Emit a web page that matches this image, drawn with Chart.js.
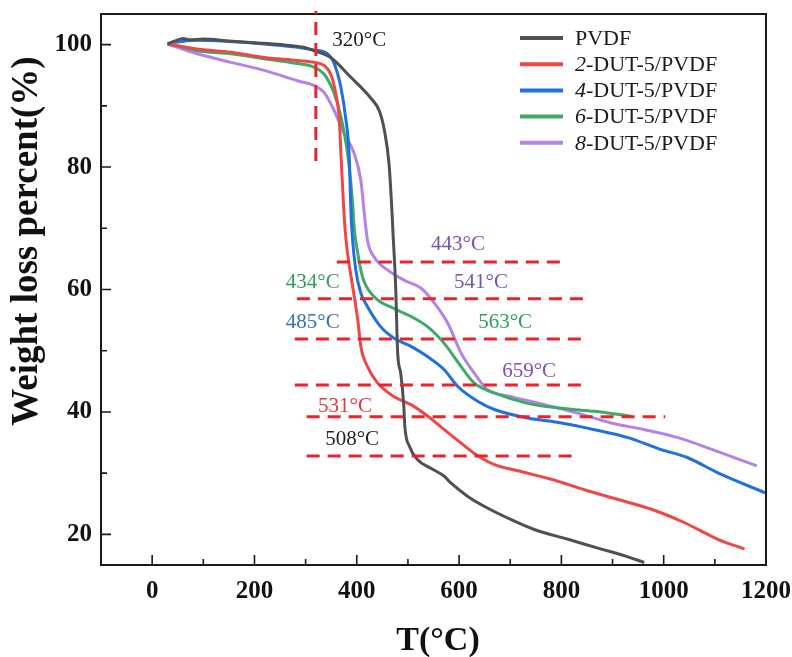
<!DOCTYPE html>
<html>
<head>
<meta charset="utf-8">
<script src="https://cdn.jsdelivr.net/npm/chart.js@4.4.1/dist/chart.umd.min.js"></script>
<style>
  html, body { margin: 0; padding: 0; background: #ffffff; }
  #wrap { width: 792px; height: 657px; }
</style>
</head>
<body>
<div id="wrap"><canvas id="tga" width="792" height="657"></canvas></div>
<script>
// ---- TGA curves: temperature (°C) and remaining weight (%) ----
const seriesNames = ['PVDF', '2-DUT-5/PVDF', '4-DUT-5/PVDF', '6-DUT-5/PVDF', '8-DUT-5/PVDF'];

const pvdfT = [30, 45, 60, 75, 100, 150, 200, 250, 300, 317, 349, 388, 428, 444, 454, 463, 468, 471, 476, 480, 486, 492, 494, 503, 519, 545, 571, 584, 617, 649, 702, 747, 813, 878, 924, 962];
const pvdfW = [100.1, 100.6, 101.0, 100.8, 100.9, 100.6, 100.3, 100.0, 99.5, 99.0, 97.9, 94.7, 91.2, 89.2, 86.0, 80.6, 74.0, 69.0, 60.5, 49.6, 46.3, 40.9, 37.6, 34.4, 32.2, 30.8, 29.5, 28.4, 26.2, 24.6, 22.4, 20.8, 19.2, 17.6, 16.5, 15.4];

const dut2T = [30, 88, 154, 219, 284, 317, 336, 349, 359, 366, 369, 374, 377, 382, 392, 402, 408, 421, 441, 473, 506, 539, 571, 604, 637, 669, 715, 780, 845, 911, 976, 1041, 1106, 1158];
const dut2W = [100.1, 99.3, 98.75, 97.9, 97.4, 97.1, 96.6, 95.2, 92.0, 87.6, 82.2, 74.0, 70.0, 65.9, 60.5, 55.0, 50.7, 47.4, 44.7, 42.5, 41.2, 39.3, 37.1, 34.9, 32.8, 31.4, 30.4, 29.0, 27.3, 25.7, 24.1, 21.9, 19.2, 17.6];

const dut4T = [43, 88, 150, 219, 280, 317, 343, 356, 369, 379, 385, 388.5, 391, 398, 408, 421, 447, 473, 506, 539, 571, 597, 637, 669, 734, 800, 865, 930, 995, 1045, 1106, 1198];
const dut4W = [100.4, 100.7, 100.5, 100.1, 99.6, 99.1, 98.5, 96.9, 93.0, 87.6, 82.2, 73.0, 69.0, 63.2, 59.4, 57.2, 53.9, 52.05, 50.7, 49.0, 46.9, 44.2, 41.7, 40.4, 39.0, 38.2, 37.1, 35.8, 33.85, 32.6, 30.05, 26.8];

const dut6T = [36, 88, 154, 219, 284, 317, 336, 356, 369, 382, 392, 395, 402, 411, 434, 473, 506, 539, 571, 604, 630, 669, 734, 800, 865, 937];
const dut6W = [100.1, 99.0, 98.5, 97.7, 96.9, 96.3, 95.2, 92.0, 88.2, 82.2, 74.0, 70.0, 65.9, 62.1, 58.8, 56.9, 55.6, 53.9, 51.2, 47.4, 44.7, 43.1, 41.4, 40.6, 40.1, 39.3];

const dut8T = [30, 88, 154, 219, 284, 317, 336, 356, 375, 395, 408, 414, 421, 434, 460, 493, 526, 552, 578, 604, 630, 656, 702, 767, 832, 897, 963, 1028, 1110, 1182];
const dut8W = [100.1, 98.5, 97.1, 95.8, 94.1, 93.3, 92.2, 89.2, 85.5, 82.2, 77.8, 73.0, 68.0, 65.3, 63.2, 61.5, 60.2, 57.75, 54.5, 49.6, 46.3, 43.6, 42.5, 41.2, 39.8, 38.2, 37.1, 35.8, 33.4, 31.2];

// ---- axes ----
const xTickValues = [0, 200, 400, 600, 800, 1000, 1200];
const xMinorValues = [100, 300, 500, 700, 900, 1100];
const yTickValues = [20, 40, 60, 80, 100];
const yMinorValues = [30, 50, 70, 90];

// ---- decomposition markers ----
const onsetT = 320;            // vertical guide
const onsetSpan = [81, 105.5];
const guideW = [64.5, 58.5, 51.9, 44.4, 39.2, 32.8];   // horizontal guides (weight %)
const guideFrom = [361, 283, 279, 279, 302, 302];
const guideTo = [809, 856, 852, 852, 1003, 820];

const markTexts = ['320°C', '443°C', '434°C', '541°C', '485°C', '563°C', '659°C', '531°C', '508°C'];
const markT = [405, 598, 314, 643, 314, 690, 737, 377, 391];
const markW = [100.7, 67.3, 61.1, 61.1, 54.6, 54.6, 46.6, 40.9, 35.5];

const SERIF = '"Liberation Serif", "Times New Roman", "DejaVu Serif", serif';
const lineColors = ['#505050', '#f04646', '#2070e4', '#3eaa68', '#b482ea'];
const markColors = ['#222222', '#7b52b3', '#2f9f58', '#7b52b3', '#2f72bd', '#2f9f58', '#7b52b3', '#e03a3a', '#222222'];

function pairs(xs, ys) { return xs.map((x, i) => ({ x: x, y: ys[i] })); }
const seriesT = [pvdfT, dut2T, dut4T, dut6T, dut8T];
const seriesW = [pvdfW, dut2W, dut4W, dut6W, dut8W];

const datasets = seriesNames.map((name, i) => ({
  label: name,
  data: pairs(seriesT[i], seriesW[i]),
  borderColor: lineColors[i],
  backgroundColor: lineColors[i],
  borderWidth: 3,
  pointRadius: 0,
  cubicInterpolationMode: 'monotone',
  fill: false
}));

// frame box with inward tick marks
const framePlugin = {
  id: 'frame',
  afterDatasetsDraw(chart) {
    const { ctx, chartArea: a, scales: { x, y } } = chart;
    ctx.save();
    ctx.strokeStyle = '#1a1a1a';
    ctx.lineWidth = 2;
    ctx.strokeRect(a.left, a.top, a.right - a.left, a.bottom - a.top);
    ctx.lineWidth = 1.6;
    ctx.beginPath();
    xTickValues.forEach(v => { const p = x.getPixelForValue(v); if (p < a.right - 2) { ctx.moveTo(p, a.bottom); ctx.lineTo(p, a.bottom - 10); } });
    xMinorValues.forEach(v => { const p = x.getPixelForValue(v); ctx.moveTo(p, a.bottom); ctx.lineTo(p, a.bottom - 6); });
    yTickValues.forEach(v => { const p = y.getPixelForValue(v); ctx.moveTo(a.left, p); ctx.lineTo(a.left + 10, p); });
    yMinorValues.forEach(v => { const p = y.getPixelForValue(v); ctx.moveTo(a.left, p); ctx.lineTo(a.left + 6, p); });
    ctx.stroke();
    ctx.restore();
  }
};

// red dashed guides and temperature labels
const markerPlugin = {
  id: 'markers',
  afterDatasetsDraw(chart) {
    const { ctx, scales: { x, y } } = chart;
    ctx.save();
    ctx.strokeStyle = '#e8232a';
    ctx.lineWidth = 3;
    ctx.setLineDash([13, 8]);
    ctx.beginPath();
    const vx = x.getPixelForValue(onsetT);
    ctx.moveTo(vx, y.getPixelForValue(onsetSpan[0]));
    ctx.lineTo(vx, y.getPixelForValue(onsetSpan[1]));
    guideW.forEach((w, i) => {
      const py = y.getPixelForValue(w);
      ctx.moveTo(x.getPixelForValue(guideFrom[i]), py);
      ctx.lineTo(x.getPixelForValue(guideTo[i]), py);
    });
    ctx.stroke();
    ctx.setLineDash([]);
    ctx.font = '21px ' + SERIF;
    ctx.textAlign = 'center';
    ctx.textBaseline = 'middle';
    markTexts.forEach((t, i) => {
      ctx.fillStyle = markColors[i];
      ctx.fillText(t, x.getPixelForValue(markT[i]), y.getPixelForValue(markW[i]));
    });
    ctx.restore();
  }
};

// legend with italic loading number
const legendPlugin = {
  id: 'seriesLegend',
  afterDraw(chart) {
    const { ctx } = chart;
    ctx.save();
    chart.data.datasets.forEach((ds, i) => {
      const yy = 38 + i * 26.2;
      ctx.strokeStyle = ds.borderColor;
      ctx.lineWidth = 4;
      ctx.beginPath();
      ctx.moveTo(520, yy);
      ctx.lineTo(563, yy);
      ctx.stroke();
      ctx.fillStyle = '#1a1a1a';
      ctx.textAlign = 'left';
      ctx.textBaseline = 'middle';
      let tx = 575;
      const m = /^(\d)(.*)$/.exec(ds.label);
      if (m) {
        ctx.font = 'italic 22px ' + SERIF;
        ctx.fillText(m[1], tx, yy + 1);
        tx += ctx.measureText(m[1]).width;
        ctx.font = '22px ' + SERIF;
        ctx.fillText(m[2], tx, yy + 1);
      } else {
        ctx.font = '22px ' + SERIF;
        ctx.fillText(ds.label, tx, yy + 1);
      }
    });
    ctx.restore();
  }
};

// axis titles
const titlePlugin = {
  id: 'axisTitles',
  afterDraw(chart) {
    const { ctx } = chart;
    ctx.save();
    ctx.fillStyle = '#111111';
    ctx.textAlign = 'center';
    ctx.font = 'bold 34px ' + SERIF;
    ctx.textBaseline = 'alphabetic';
    ctx.fillText('T(°C)', 438, 650);
    ctx.translate(27, 241);
    ctx.rotate(-Math.PI / 2);
    ctx.font = 'bold 37px ' + SERIF;
    ctx.textBaseline = 'middle';
    ctx.fillText('Weight loss percent(%)', 0, 0);
    ctx.restore();
  }
};

function noEdgePadding(s) {
  s.paddingTop = 0; s.paddingBottom = 0; s.paddingLeft = 0; s.paddingRight = 0;
}

new Chart(document.getElementById('tga'), {
  type: 'line',
  data: { datasets: datasets },
  plugins: [framePlugin, markerPlugin, legendPlugin, titlePlugin],
  options: {
    responsive: false,
    animation: false,
    devicePixelRatio: 1,
    layout: { padding: { top: 14, right: 26, left: 0, bottom: 0 } },
    plugins: { legend: { display: false }, tooltip: { enabled: false } },
    scales: {
      x: {
        type: 'linear', min: -100, max: 1200,
        grid: { display: false, drawTicks: false },
        border: { display: false },
        afterBuildTicks: s => { s.ticks = xTickValues.map(v => ({ value: v })); },
        afterFit: s => { s.height = 92; noEdgePadding(s); },
        ticks: {
          padding: 12, autoSkip: false, maxRotation: 0, color: '#111111',
          font: { family: SERIF, size: 25, weight: 'bold' },
          callback: v => String(v)
        }
      },
      y: {
        type: 'linear', min: 15, max: 105,
        grid: { display: false, drawTicks: false },
        border: { display: false },
        afterBuildTicks: s => { s.ticks = yTickValues.map(v => ({ value: v })); },
        afterFit: s => { s.width = 101; noEdgePadding(s); },
        ticks: {
          padding: 9, color: '#111111',
          font: { family: SERIF, size: 25, weight: 'bold' },
          callback: v => String(v)
        }
      }
    }
  }
});
</script>
</body>
</html>
